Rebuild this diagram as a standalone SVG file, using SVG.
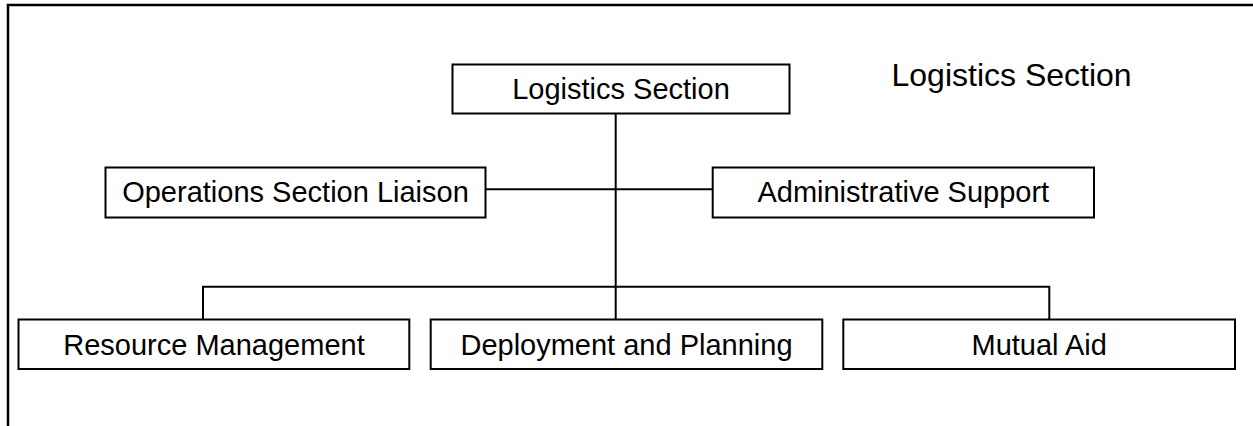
<svg xmlns="http://www.w3.org/2000/svg" width="1253" height="426" viewBox="0 0 1253 426">
  <style>
    .box { fill: #ffffff; stroke: #000000; stroke-width: 2; }
    .lbl { font-family: "Liberation Sans", Arial, sans-serif; font-size: 29px; fill: #000000; text-anchor: middle; }
    .title { font-family: "Liberation Sans", Arial, sans-serif; font-size: 32px; fill: #000000; }
    .wire { fill: none; stroke: #000000; stroke-width: 2; }
  </style>
  <rect width="1253" height="426" fill="#ffffff"/>
  <!-- page frame, open to the right and bottom -->
  <rect x="8" y="5" width="1270" height="440" fill="none" stroke="#000000" stroke-width="2.5"/>

  <text class="title" x="891.5" y="85.7">Logistics Section</text>

  <g id="connectors">
    <line class="wire" x1="615.7" y1="113.5" x2="615.7" y2="319.5"/>
    <line class="wire" x1="485.5" y1="189.3" x2="712.7" y2="189.3"/>
    <polyline class="wire" points="203,319.5 203,286.7 1049.3,286.7 1049.3,319.5"/>
  </g>

  <g id="logistics-section">
    <rect class="box" x="452.5" y="64.5" width="337" height="49"/>
    <text class="lbl" x="621" y="99.3">Logistics Section</text>
  </g>
  <g id="operations-liaison">
    <rect class="box" x="105.5" y="167.5" width="380" height="50"/>
    <text class="lbl" x="295.5" y="202.3">Operations Section Liaison</text>
  </g>
  <g id="administrative-support">
    <rect class="box" x="712.7" y="167.5" width="381.3" height="50"/>
    <text class="lbl" x="903.3" y="202.3">Administrative Support</text>
  </g>
  <g id="resource-management">
    <rect class="box" x="18.5" y="319.5" width="390.8" height="49.5"/>
    <text class="lbl" x="214" y="355">Resource Management</text>
  </g>
  <g id="deployment-planning">
    <rect class="box" x="430.7" y="319.5" width="391.6" height="49.5"/>
    <text class="lbl" x="626.5" y="355">Deployment and Planning</text>
  </g>
  <g id="mutual-aid">
    <rect class="box" x="843.3" y="319.5" width="391.7" height="49.5"/>
    <text class="lbl" x="1039.2" y="355">Mutual Aid</text>
  </g>
</svg>
